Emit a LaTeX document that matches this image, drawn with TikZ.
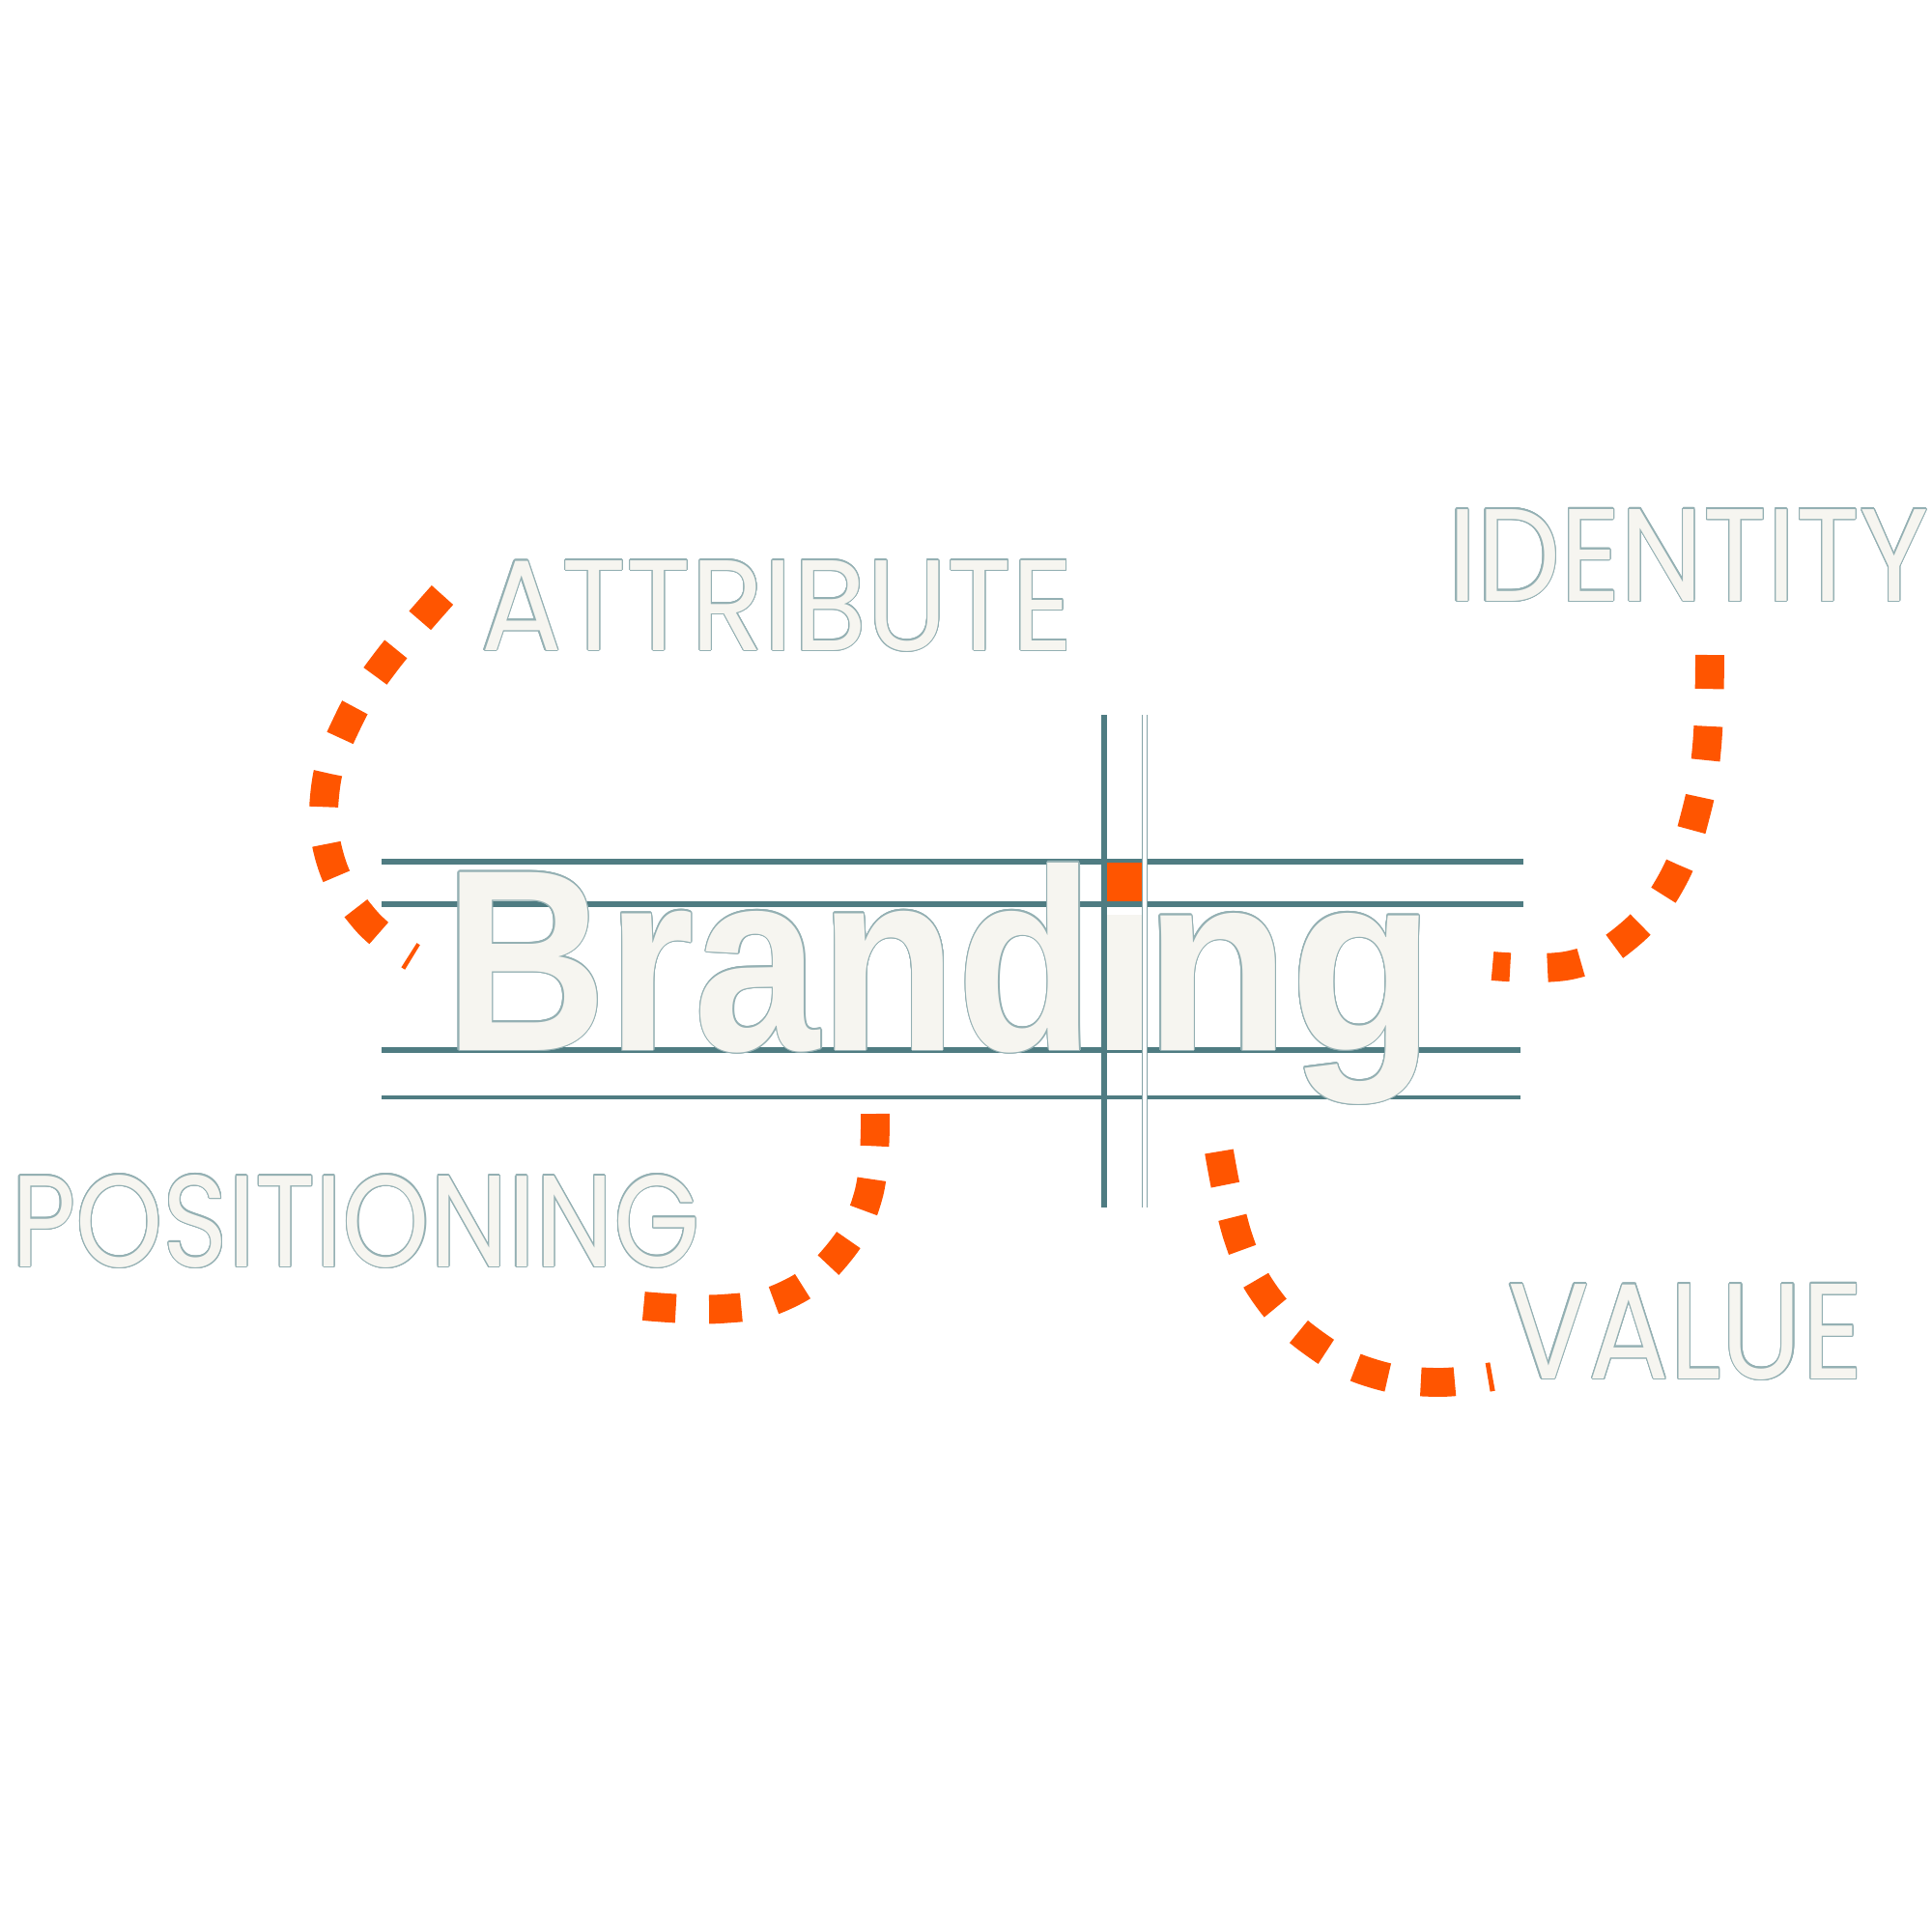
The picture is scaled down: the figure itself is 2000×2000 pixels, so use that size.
\documentclass[tikz,border=0pt]{standalone}
\usepackage{fontspec}
\usepackage{graphicx}
\usepackage{contour}
\newfontfamily\labelfont{Poppins}
\newfontfamily\brandfont{Liberation Sans}
\definecolor{gridteal}{HTML}{4F7C82}
\definecolor{edgeteal}{HTML}{94B0B3}
\definecolor{offwhite}{HTML}{F6F5F0}
\definecolor{brandorange}{HTML}{FF5500}
\contourlength{0.35pt}
\contournumber{20}
\newcommand{\capword}[3]{\resizebox{#1}{#2}{\contour{edgeteal}{#3}}}
\tikzstyle{word}=[inner sep=0, outer sep=0, text=offwhite, anchor=base west, font=\labelfont\fontsize{38}{40}\selectfont]
\tikzstyle{brandword}=[word, font=\brandfont\bfseries\fontsize{77}{80}\selectfont]
\tikzstyle{guide}=[draw=gridteal, line width=1.8pt]
\tikzstyle{stem}=[rectangle, fill=offwhite, inner sep=0, minimum width=0.42cm, minimum height=1.4cm]
\tikzstyle{dotbox}=[rectangle, fill=brandorange, inner sep=0, minimum size=0.4cm]
\tikzstyle{arcdash}=[draw=brandorange, line width=8.5pt, dash pattern=on 10pt off 11pt]

\begin{document}
\begin{tikzpicture}[x=0.01cm, y=-0.01cm]
    \path[use as bounding box, fill=white] (0,0) rectangle (2000,2000);
    \clip (0,0) rectangle (2000,2000);

    % ruling behind the word
    \draw[guide] (395,892) -- (1577,892);
    \draw[guide] (395,936) -- (1577,936);
    \draw[guide] (395,1087) -- (1574,1087);
    \draw[guide, line width=0.9pt] (395,1136) -- (1574,1136);

    \path
    (460,1087) node[brandword] (brand) {\capword{6.73cm}{1.94cm}{Brand}}
    (1185,1087) node[brandword] (ng) {\capword{3.0cm}{1.42cm}{ng}}
    (1164,1017) node[stem] (istem) {}
    (1164,913) node[dotbox] (idot) {};

    \path
    (498,673) node[word] (attribute) {\capword{6.13cm}{0.93cm}{ATTRIBUTE}}
    (1499,622) node[word] (identity) {\capword{4.97cm}{0.95cm}{IDENTITY}}
    (12,1311) node[word] (positioning) {\capword{7.12cm}{0.95cm}{POSITIONING}}
    (1561,1427) node[word] (value) {\capword{3.68cm}{0.98cm}{VALUE}};

    % stem of the i
    \draw[guide, line width=1.5pt] (1143,740) -- (1143,1250);
    \draw[draw=gridteal!70, line width=0.4pt, double=white, double distance=0.9pt] (1185,740) -- (1185,1250);

    \draw[arcdash] plot[smooth, tension=0.7] coordinates {(458,616) (398,687) (360,747) (337,815) (342,890) (378,952) (427,991)};
    \draw[arcdash] plot[smooth, tension=0.7] coordinates {(1770,678) (1767,772) (1755,844) (1730,913) (1685,969) (1626,999) (1545,1000)};
    \draw[arcdash, dash pattern=on 9.5pt off 9.8pt] plot[smooth, tension=0.7] coordinates {(906,1153) (899,1237) (865,1301) (811,1342) (746,1355) (666,1352)};
    \draw[arcdash, dash pattern=on 10pt off 9.8pt] plot[smooth, tension=0.7] coordinates {(1262,1192) (1282,1282) (1314,1346) (1365,1394) (1422,1422) (1486,1431) (1545,1425)};
\end{tikzpicture}
\end{document}
